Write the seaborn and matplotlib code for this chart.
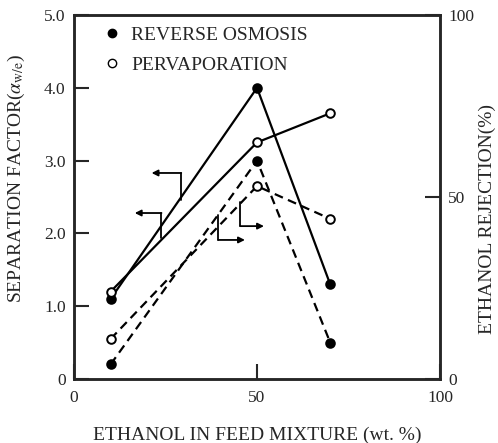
import matplotlib
matplotlib.use("Agg")
import matplotlib.pyplot as plt
from matplotlib.lines import Line2D
import seaborn as sns

# ---- data ----
feed_ethanol = [10, 50, 70]
ro_sep_factor = [1.1, 4.0, 1.3]
pv_sep_factor = [1.2, 3.25, 3.65]
ro_rejection = [4, 60, 10]
pv_rejection = [11, 53, 44]

left_ticks = [0, 1, 2, 3, 4, 5]
left_ticklabels = ["0", "1.0", "2.0", "3.0", "4.0", "5.0"]
right_ticks = [0, 50, 100]
right_ticklabels = ["0", "50", "100"]
x_ticks = [0, 50, 100]
x_ticklabels = ["0", "50", "100"]

sns.set_style("ticks")
plt.rcParams["font.family"] = ["Liberation Serif", "DejaVu Serif"]
plt.rcParams["mathtext.fontset"] = "stix"

fig = plt.figure(figsize=(4.98, 4.43), dpi=100)
ax = fig.add_axes([0.1486, 0.1445, 0.735, 0.8216])
ax2 = ax.twinx()

lw = 1.6
ms = 6.2
common = dict(color="black", linewidth=lw, marker="o", markersize=ms,
              markeredgecolor="black", markeredgewidth=1.4)

sns.lineplot(x=feed_ethanol, y=ro_sep_factor, ax=ax, markerfacecolor="black",
             linestyle="-", **common)
sns.lineplot(x=feed_ethanol, y=pv_sep_factor, ax=ax, markerfacecolor="white",
             linestyle="-", **common)
sns.lineplot(x=feed_ethanol, y=ro_rejection, ax=ax2, markerfacecolor="black",
             linestyle=(0, (4, 2.5)), **common)
sns.lineplot(x=feed_ethanol, y=pv_rejection, ax=ax2, markerfacecolor="white",
             linestyle=(0, (4, 2.5)), **common)

ax.set_xlim(0, 100)
ax.set_ylim(0, 5)
ax2.set_ylim(0, 100)

tfs = 12.5
lfs = 14
ax.set_xticks(x_ticks)
ax.set_xticklabels(x_ticklabels, fontsize=tfs)
ax.set_yticks(left_ticks)
ax.set_yticklabels(left_ticklabels, fontsize=tfs)
ax2.set_yticks(right_ticks)
ax2.set_yticklabels(right_ticklabels, fontsize=tfs)

for a in (ax, ax2):
    a.tick_params(direction="in", length=11, width=1.5, pad=6)
    for s in a.spines.values():
        s.set_linewidth(1.8)
        s.set_visible(True)
ax.tick_params(axis="x", pad=8)

ax.set_xlabel("ETHANOL IN FEED MIXTURE (wt. %)", fontsize=lfs)
ax.xaxis.set_label_coords(0.5, -0.13)
ax.set_ylabel(r"SEPARATION FACTOR($\alpha_{\mathrm{w/e}}$)", fontsize=lfs)
ax.yaxis.set_label_coords(-0.158, 0.55)
ax.yaxis.label.set_va("center")
ax2.set_ylabel("ETHANOL REJECTION(%)", fontsize=lfs)
ax2.yaxis.set_label_coords(1.128, 0.44)
ax2.yaxis.label.set_va("center")

# legend
handles = [
    Line2D([], [], marker="o", linestyle="none", markersize=6,
           markerfacecolor="black", markeredgecolor="black"),
    Line2D([], [], marker="o", linestyle="none", markersize=6,
           markerfacecolor="white", markeredgecolor="black", markeredgewidth=1.0),
]
ax.legend(handles, ["REVERSE OSMOSIS", "PERVAPORATION"], loc="upper left",
          frameon=False, fontsize=14, handletextpad=0.5,
          handlelength=1.0, labelspacing=0.6, borderaxespad=0.2,
          bbox_to_anchor=(0.045, 1.0))

# bracket arrows: solid lines -> left axis, dashed lines -> right axis
arrow_kw = dict(arrowstyle="-|>", color="black", lw=1.3, mutation_scale=9,
                shrinkA=0, shrinkB=0)
def bracket(x0, y0, yc, xt):
    ax.plot([x0, x0], [y0, yc], color="black", lw=1.3)
    ax.annotate("", xy=(xt, yc), xytext=(x0, yc), arrowprops=arrow_kw)

bracket(29.3, 2.46, 2.83, 21.2)
bracket(23.9, 1.94, 2.28, 16.6)
bracket(39.4, 2.25, 1.91, 46.7)
bracket(45.4, 2.43, 2.10, 51.9)

fig.savefig("out.png", dpi=100)
